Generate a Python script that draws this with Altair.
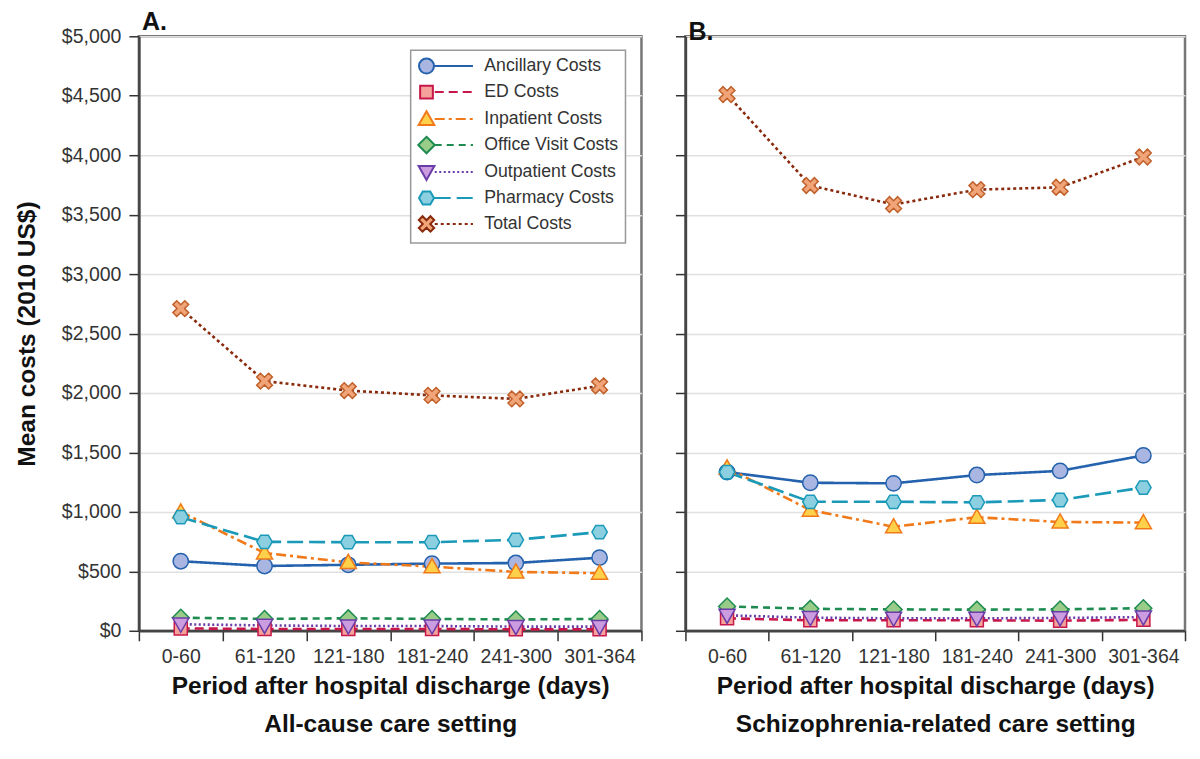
import math
import altair as alt
import pandas as pd

periods = ["0-60", "61-120", "121-180", "181-240", "241-300", "301-364"]
series = ["Ancillary Costs", "ED Costs", "Inpatient Costs", "Office Visit Costs",
          "Outpatient Costs", "Pharmacy Costs", "Total Costs"]

# Panel A: all-cause care setting
ancillary_a = [585, 545, 555, 565, 570, 615]
ed_a = [20, 15, 15, 15, 12, 12]
inpatient_a = [1000, 655, 575, 540, 495, 485]
office_a = [110, 100, 105, 100, 95, 100]
outpatient_a = [55, 45, 40, 40, 35, 35]
pharmacy_a = [955, 748, 745, 745, 765, 830]
total_a = [2710, 2100, 2020, 1980, 1950, 2060]

# Panel B: schizophrenia-related care setting
ancillary_b = [1335, 1245, 1240, 1310, 1345, 1475]
ed_b = [105, 88, 88, 88, 85, 92]
inpatient_b = [1370, 1015, 875, 955, 915, 910]
office_b = [205, 185, 180, 178, 180, 190]
outpatient_b = [130, 110, 105, 105, 108, 115]
pharmacy_b = [1335, 1085, 1085, 1080, 1100, 1205]
total_b = [4510, 3745, 3585, 3710, 3730, 3985]

values_a = [ancillary_a, ed_a, inpatient_a, office_a, outpatient_a, pharmacy_a, total_a]
values_b = [ancillary_b, ed_b, inpatient_b, office_b, outpatient_b, pharmacy_b, total_b]

line_colors = ["#2462ad", "#c8174a", "#f07a1a", "#1e8c50", "#6a3ca8", "#1a9ab8", "#8a2a0c"]
fill_colors = ["#aab6e2", "#f4a29a", "#ffd04a", "#98cc88", "#cc9ce0", "#8ccfe0", "#f0a478"]
stroke_colors = ["#2462ad", "#c8174a", "#f07a1a", "#1e8c50", "#6a3ca8", "#1a9ab8", "#c0602a"]
dash_patterns = [[1, 0], [9, 5], [10, 4, 3, 4], [7, 5], [2, 2.5], [16, 6], [3, 3]]

FONT = "Liberation Sans, Arial, Helvetica, sans-serif"


def fmt(v):
    return ("%.3f" % v).rstrip("0").rstrip(".")


def poly(pts):
    return "M" + " L".join(fmt(x) + "," + fmt(y) for x, y in pts) + " Z"


circle = "M-1,0 A1,1 0 1,1 1,0 A1,1 0 1,1 -1,0 Z"
square = poly([(-0.85, -0.85), (0.85, -0.85), (0.85, 0.85), (-0.85, 0.85)])
tri_up = poly([(0, -1.05), (1.05, 0.8), (-1.05, 0.8)])
diamond = poly([(0, -1.1), (1.1, 0), (0, 1.1), (-1.1, 0)])
tri_down = poly([(-1.05, -0.8), (1.05, -0.8), (0, 1.05)])
hexagon = poly([(math.cos(math.radians(a)), math.sin(math.radians(a))) for a in range(0, 360, 60)])
a = 0.32
plus = [(-a, -1), (a, -1), (a, -a), (1, -a), (1, a), (a, a), (a, 1), (-a, 1), (-a, a), (-1, a), (-1, -a), (-a, -a)]
r45 = math.radians(45)
xcross = poly([(x * math.cos(r45) - y * math.sin(r45), x * math.sin(r45) + y * math.cos(r45)) for x, y in
               [(px * 1.1, py * 1.1) for px, py in plus]])
shape_paths = [circle, square, tri_up, diamond, tri_down, hexagon, xcross]


def dashed_segment(pattern, x0, x1, unit):
    segs = []
    x = x0
    i = 0
    while x < x1:
        length = pattern[i % len(pattern)] / unit
        if i % 2 == 0:
            xe = min(x + length, x1)
            segs.append("M%s,0 L%s,0" % (fmt(x), fmt(xe)))
        x += length
        i += 1
    return " ".join(segs)


LEG_SIZE = 225
unit = math.sqrt(LEG_SIZE) / 2
legend_paths = []
for shp, pat in zip(shape_paths, dash_patterns):
    if pat[1] == 0:
        line = "M1.1,0 L6.2,0"
    else:
        line = dashed_segment(pat, 1.1, 6.2, unit)
    legend_paths.append(shp + " " + line)


def long_df(vals):
    rows = []
    for s, v in zip(series, vals):
        for p, c in zip(periods, v):
            rows.append({"period": p, "cost": c, "series": s})
    return pd.DataFrame(rows)


def panel(vals, letter, subtitle, show_labels, with_legend, width):
    df = long_df(vals)
    base = alt.Chart(df)
    x = alt.X("period:N", sort=periods,
              scale=alt.Scale(type="band", paddingInner=0, paddingOuter=0),
              axis=alt.Axis(tickBand="extent", labelAngle=0, title=["Period after hospital discharge (days)", subtitle],
                            titleFontSize=24.5, titleFontWeight="bold", titleLineHeight=38, titlePadding=8,
                            labelFontSize=19.5, labelPadding=7, tickSize=10))
    y = alt.Y("cost:Q", scale=alt.Scale(domain=[0, 5000], nice=False),
              axis=alt.Axis(values=list(range(0, 5001, 500)), format="$,.0f", labels=show_labels,
                            title="Mean costs (2010 US$)" if show_labels else None,
                            titleFontSize=24.5, titleFontWeight="bold", titlePadding=22,
                            labelFontSize=19.5, tickSize=10, labelPadding=8))
    lines = base.mark_line(strokeWidth=2.6).encode(
        x=x, y=y,
        color=alt.Color("series:N", scale=alt.Scale(domain=series, range=line_colors), legend=None),
        strokeDash=alt.StrokeDash("series:N", scale=alt.Scale(domain=series, range=dash_patterns), legend=None),
    )
    points = base.mark_point(filled=True, size=235, strokeWidth=1.5, opacity=1).encode(
        x=x, y=y,
        shape=alt.Shape("series:N", scale=alt.Scale(domain=series, range=shape_paths), legend=None),
        fill=alt.Fill("series:N", scale=alt.Scale(domain=series, range=fill_colors), legend=None),
        stroke=alt.Stroke("series:N", scale=alt.Scale(domain=series, range=stroke_colors), legend=None),
    )
    layers = [lines, points]
    if with_legend:
        leg = base.mark_point(filled=True, opacity=0, strokeWidth=1.5).encode(
            x=x, y=y,
            shape=alt.Shape("series:N", scale=alt.Scale(domain=series, range=legend_paths), title=None),
            fill=alt.Fill("series:N", scale=alt.Scale(domain=series, range=fill_colors), title=None),
            stroke=alt.Stroke("series:N", scale=alt.Scale(domain=series, range=line_colors), title=None),
        )
        layers.append(leg)
    ch = alt.layer(*layers)
    if with_legend:
        ch = ch.resolve_scale(shape="independent", fill="independent", stroke="independent")
    return ch.properties(
        width=width, height=595,
        title=alt.TitleParams(letter, anchor="start", frame="group", fontSize=25, fontWeight="bold",
                              font=FONT, color="#111", dx=3, offset=-12, dy=-3),
    )


pa = panel(values_a, "A.", "All-cause care setting", True, True, 503)
pb = panel(values_b, "B.", "Schizophrenia-related care setting", False, False, 500)

chart = alt.hconcat(pa, pb, spacing=30).properties(
    padding={"left": 5, "top": 0, "right": 5, "bottom": 5}
).configure(font=FONT).configure_view(
    stroke="#777", strokeWidth=2.5
).configure_axis(
    domainColor="#444", domainWidth=2.5, tickColor="#333", tickWidth=1.5,
    labelColor="#333", titleColor="#111", gridColor="#e0e0e0", gridWidth=1.5,
    labelFont=FONT, titleFont=FONT,
).configure_axisX(grid=False).configure_legend(
    orient="none", legendX=272, legendY=14, fillColor="white", strokeColor="#999", strokeWidth=1.5,
    padding=7, symbolSize=LEG_SIZE, symbolStrokeWidth=2, symbolOpacity=1, labelOffset=49,
    labelFontSize=17.7, labelColor="#333", labelFont=FONT, rowPadding=3, labelLimit=300,
)

chart.save("out.html", embed_options={"renderer": "svg", "actions": False})
